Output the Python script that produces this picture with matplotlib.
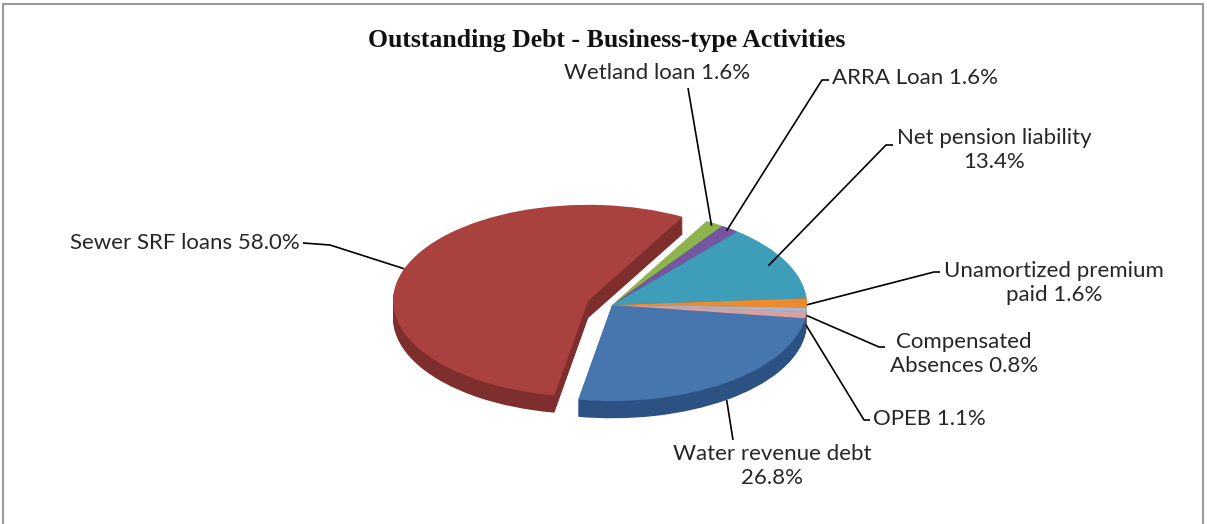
import numpy as np
import matplotlib
matplotlib.use("Agg")
import matplotlib.pyplot as plt
from matplotlib.patches import Rectangle

# Outstanding debt shares (percent), in the order the slices are laid out
labels = ["Water revenue debt", "Sewer SRF loans", "Wetland loan", "ARRA Loan",
          "Net pension liability", "Unamortized premium paid",
          "Compensated Absences", "OPEB"]
values = [26.8, 58.0, 1.6, 1.6, 13.4, 1.6, 0.8, 1.1]
explode = [0, 0.13, 0, 0, 0, 0, 0, 0]

top_colors = ["#4775AE", "#A9413E", "#8DB34D", "#7556A0",
              "#3E9DB8", "#EE8A2E", "#A3B5D2", "#D9A0A0"]
side_colors = ["#2C5283", "#7E2E2C", "#62803A", "#4F3A75",
               "#2A7386", "#B8661C", "#7C8AA5", "#7A4A42"]

label_text = ["Water revenue debt\n26.8%", "Sewer SRF loans 58.0%",
              "Wetland loan 1.6%", "ARRA Loan 1.6%",
              "Net pension liability\n13.4%", "Unamortized premium\npaid 1.6%",
              "Compensated\nAbsences 0.8%", "OPEB 1.1%"]

W, H = 1207, 524
fig = plt.figure(figsize=(W / 100, H / 100), dpi=100)
fig.patch.set_facecolor("white")
ax = fig.add_axes([0, 0, 1, 1])

start = -8
depth = 0.18
nlayers = 18

# stack of darker pies gives the side walls, the top face goes last
for i in range(nlayers, 0, -1):
    dz = depth * i / nlayers
    ax.pie(values, colors=side_colors, startangle=start, counterclock=False,
           explode=explode, center=(0, -dz), radius=1,
           wedgeprops=dict(linewidth=0))
wedges, _ = ax.pie(values, colors=top_colors, startangle=start, counterclock=False,
                   explode=explode, center=(0, 0), radius=1,
                   wedgeprops=dict(linewidth=0))

# squash the pie into an ellipse
cx, cy, rx, ry = 612, 305, 195, 96
ax.set_aspect("auto")
ax.set_xlim(-cx / rx, (W - cx) / rx)
ax.set_ylim(-(H - cy) / ry, cy / ry)
ax.axis("off")

def fig_pt(px, py):
    # pixel position on the figure -> data coords
    return ax.transData.inverted().transform(
        fig.transFigure.transform((px / W, 1 - py / H)))

# anchor point on each slice from its mid angle
total = sum(values)
angles = []
a = start
for v in values:
    span = v / total * 360
    angles.append(np.deg2rad(a - span / 2))
    a -= span

anchor_r = [1.0, 1.0, 0.97, 0.97, 0.9, 1.0, 1.0, 1.0]
anchor_dz = [depth, 0, 0, 0, 0, 0.02, 0.06, 0.1]

# text position (px), alignment, leader start (px), elbow (px)
layout = [
    ((772, 466), "center", (733, 440), None),
    ((300, 243), "right", (303, 243), (330, 245)),
    ((657, 73), "center", (688, 88), None),
    ((832, 78), "left", (829, 80), (822, 80)),
    ((994, 150), "center", (893, 145), (886, 145)),
    ((1054, 283), "center", (940, 272), (934, 272)),
    ((964, 354), "center", (885, 347), (879, 347)),
    ((873, 419), "left", (870, 420), (864, 420)),
]

font = "Lato"
for k, (txt, (tpos, ha, lstart, elbow)) in enumerate(zip(label_text, layout)):
    th = angles[k]
    ex = explode[k]
    r = anchor_r[k]
    ax_ = (r + ex) * np.cos(th)
    ay_ = (r + ex) * np.sin(th) - anchor_dz[k]
    tx, ty = fig_pt(*tpos)
    ax.text(tx, ty, txt, ha=ha, va="center", fontsize=16, family=font,
            color="#262626", linespacing=1.2)
    pts = [fig_pt(*lstart)]
    if elbow is not None:
        pts.append(fig_pt(*elbow))
    pts.append((ax_, ay_))
    pts = np.array(pts)
    ax.plot(pts[:, 0], pts[:, 1], color="black", lw=1.2, solid_capstyle="butt")

tx, ty = fig_pt(607, 40)
ax.text(tx, ty, "Outstanding Debt - Business-type Activities", ha="center",
        va="center", fontsize=18.5, fontweight="bold", family="Liberation Serif",
        color="#111111")

# chart border
fig.patches.append(Rectangle((3 / W, -0.05), (W - 7) / W, 1.05 - 4 / H,
                             transform=fig.transFigure, fill=False,
                             edgecolor="#9a9a9a", lw=1.5))

fig.savefig("out.png", dpi=100)
